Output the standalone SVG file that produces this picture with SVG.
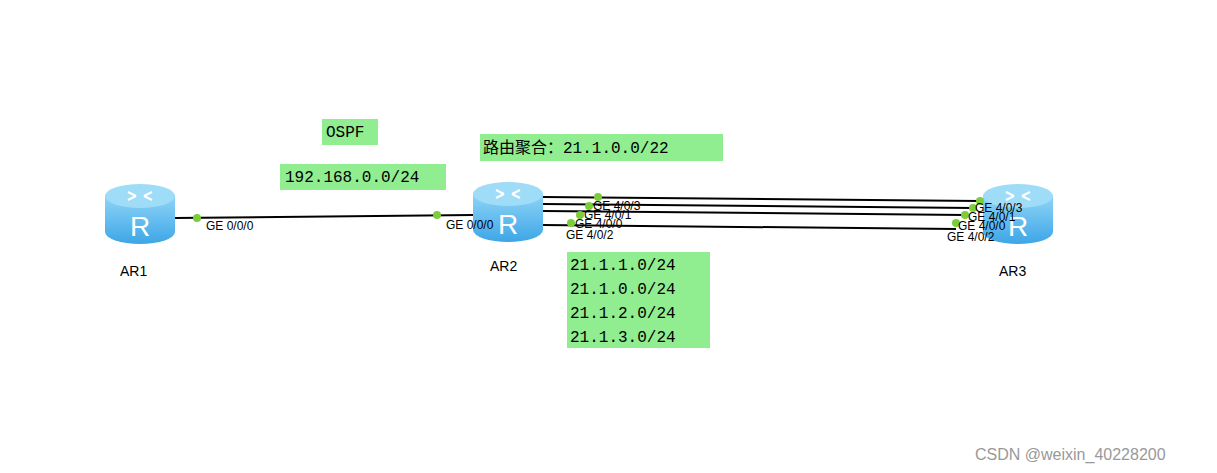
<svg xmlns="http://www.w3.org/2000/svg" width="1217" height="473" viewBox="0 0 1217 473">
<style>
.lbl{font-family:"Liberation Mono","Noto Sans CJK SC",monospace;font-size:16px;fill:#000}
.box{fill:#90ee90}
.port{font-family:"Liberation Sans",Arial,sans-serif;font-size:12px;fill:#000}
.name{font-family:"Liberation Sans",Arial,sans-serif;font-size:14px;fill:#000}
.dot{fill:#7ccd3a}
line{stroke:#000;stroke-width:2}
</style>
<defs>
<linearGradient id="g" x1="0" y1="0" x2="0" y2="1"><stop offset="0" stop-color="#8fd4f7"/><stop offset="1" stop-color="#3da6e6"/></linearGradient>
<g id="router">
<path d="M-35,-18 V18 A35,12 0 0 0 35,18 V-18 Z" fill="url(#g)"/>
<ellipse cx="0" cy="-18" rx="35" ry="12" fill="#9fdcf8"/>
<path d="M-12,-22 l8,4 M12,-22 l-8,4 M-12,-14 l8,-4 M12,-14 l-8,-4" stroke="#fff" stroke-width="2"/>
<text x="0" y="22" text-anchor="middle" font-family="Liberation Sans,sans-serif" font-size="28" fill="#fff">R</text>
</g>
</defs>
<rect width="1217" height="473" fill="#fff"/>
<g id="AR1"><use href="#router" x="140" y="214"/><text class="name" x="120" y="276">AR1</text></g>
<g id="AR2"><use href="#router" x="508" y="212"/><text class="name" x="490" y="271">AR2</text></g>
<g id="AR3"><use href="#router" x="1018" y="214"/><text class="name" x="999" y="276">AR3</text></g>
<g id="connectors">
<line x1="175" y1="218" x2="473" y2="215"/>
<line x1="543" y1="197" x2="980" y2="201"/>
<line x1="543" y1="204" x2="973" y2="208"/>
<line x1="543" y1="211" x2="965" y2="215"/>
<line x1="543" y1="225" x2="956" y2="229"/>
<circle class="dot" cx="197" cy="218" r="4"/>
<circle class="dot" cx="437" cy="215" r="4"/>
<circle class="dot" cx="598" cy="197" r="4"/>
<circle class="dot" cx="589" cy="206" r="4"/>
<circle class="dot" cx="580" cy="215" r="4"/>
<circle class="dot" cx="571" cy="223" r="4"/>
<circle class="dot" cx="980" cy="201" r="4"/>
<circle class="dot" cx="973" cy="208" r="4"/>
<circle class="dot" cx="965" cy="215" r="4"/>
<circle class="dot" cx="956" cy="223" r="4"/>
<text class="port" x="206" y="230">GE 0/0/0</text>
<text class="port" x="446" y="229">GE 0/0/0</text>
<text class="port" x="593" y="210">GE 4/0/3</text>
<text class="port" x="584" y="219">GE 4/0/1</text>
<text class="port" x="575" y="228">GE 4/0/0</text>
<text class="port" x="566" y="239">GE 4/0/2</text>
<text class="port" x="975" y="212">GE 4/0/3</text>
<text class="port" x="968" y="221">GE 4/0/1</text>
<text class="port" x="958" y="230">GE 4/0/0</text>
<text class="port" x="947" y="241">GE 4/0/2</text>
</g>
<g id="notes">
<rect class="box" x="322" y="119" width="56" height="26"/><text class="lbl" x="326" y="137">OSPF</text>
<rect class="box" x="280" y="164" width="166" height="26"/><text class="lbl" x="285" y="182">192.168.0.0/24</text>
<rect class="box" x="480" y="134" width="243" height="27"/><text class="lbl" x="483" y="153">路由聚合：21.1.0.0/22</text>
<rect class="box" x="567" y="252" width="143" height="96"/>
<text class="lbl" x="570" y="270">21.1.1.0/24</text>
<text class="lbl" x="570" y="294">21.1.0.0/24</text>
<text class="lbl" x="570" y="318">21.1.2.0/24</text>
<text class="lbl" x="570" y="342">21.1.3.0/24</text>
</g>
<text x="975" y="460" font-family="Liberation Sans,sans-serif" font-size="16" fill="#999">CSDN @weixin_40228200</text>
</svg>
